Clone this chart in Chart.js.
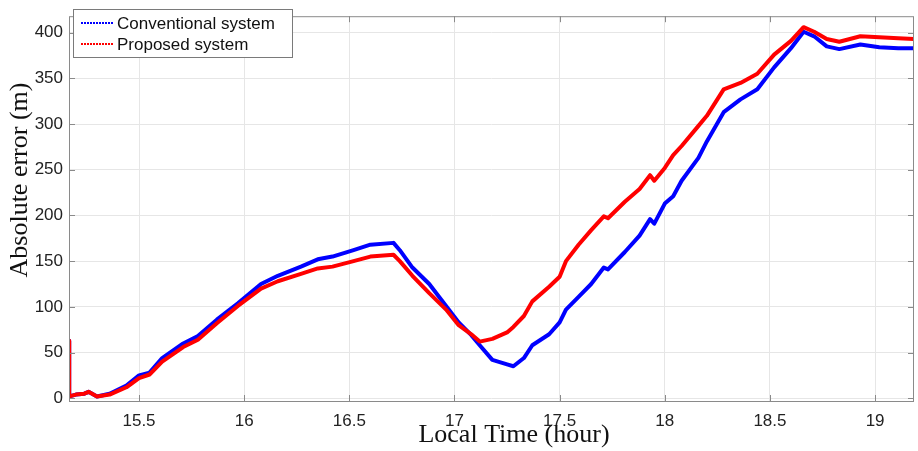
<!DOCTYPE html>
<html>
<head>
<meta charset="utf-8">
<script src="https://cdn.jsdelivr.net/npm/chart.js@4/dist/chart.umd.min.js"></script>
<style>
  html, body { margin: 0; padding: 0; background: #fff; }
  canvas { display: block; }
</style>
</head>
<body>
<canvas id="errChart" width="918" height="451"></canvas>
<script>
// local time (hour) of each sample
const times = [15.167, 15.168, 15.20, 15.24, 15.26, 15.30, 15.36, 15.44, 15.50, 15.55,
    15.61, 15.71, 15.78, 15.87, 15.97, 16.08, 16.16, 16.27, 16.35, 16.42,
    16.52, 16.60, 16.71, 16.74, 16.80, 16.88, 16.96, 17.02, 17.08, 17.12,
    17.18, 17.25, 17.28, 17.33, 17.37, 17.45, 17.50, 17.53, 17.59, 17.65,
    17.71, 17.73, 17.81, 17.88, 17.93, 17.95, 18.00, 18.04, 18.08, 18.16,
    18.20, 18.28, 18.36, 18.44, 18.52, 18.60, 18.66, 18.71, 18.77, 18.83,
    18.93, 19.02, 19.11, 19.185];
// absolute error (m)
const conventional = [63, 2, 4, 5, 7, 2, 5, 14, 25, 28,
    44, 60, 68, 86, 104, 125, 134, 144, 152, 155,
    162, 168, 170, 162, 143, 125, 101, 83, 69, 58,
    42, 37, 35, 44, 58, 70, 83, 97, 111, 125,
    143, 141, 160, 178, 196, 191, 213, 221, 238, 263,
    281, 313, 327, 338, 362, 383, 401, 396, 385, 382,
    387, 384, 383, 383];
const proposed = [63, 2, 4, 5, 7, 2, 4, 12, 22, 26,
    40, 56, 64, 82, 101, 120, 128, 136, 142, 144,
    150, 155, 157, 150, 134, 115, 97, 80, 70, 62,
    65, 72, 78, 90, 106, 122, 133, 150, 168, 184,
    199, 197, 215, 229, 244, 238, 252, 266, 276, 298,
    309, 338, 345, 355, 376, 391, 406, 401, 393, 390,
    396, 395, 394, 393];

const xTicks = [15.5, 16, 16.5, 17, 17.5, 18, 18.5, 19];
const yTicks = [0, 50, 100, 150, 200, 250, 300, 350, 400];
const seriesNames = ["Conventional system", "Proposed system"];
const seriesColors = ["#0000ff", "#ff0000"];

const tickFont = { family: "'Liberation Sans', Arial, sans-serif", size: 17 };

function toPoints(values) {
    return times.map((t, i) => ({ x: t, y: values[i] }));
}

// box, inward ticks, legend and axis titles, matlab style
const matlabDecor = {
    id: "matlabDecor",
    afterDraw(chart) {
        const ctx = chart.ctx;
        const a = chart.chartArea;
        const xs = chart.scales.x;
        const ys = chart.scales.y;
        ctx.save();

        ctx.strokeStyle = "#8a8a8a";
        ctx.lineWidth = 1;
        ctx.beginPath();
        xTicks.forEach(v => {
            const px = Math.round(xs.getPixelForValue(v)) + 0.5;
            ctx.moveTo(px, a.bottom); ctx.lineTo(px, a.bottom - 6);
            ctx.moveTo(px, a.top); ctx.lineTo(px, a.top + 6);
        });
        yTicks.forEach(v => {
            const py = Math.round(ys.getPixelForValue(v)) + 0.5;
            ctx.moveTo(a.left, py); ctx.lineTo(a.left + 6, py);
            ctx.moveTo(a.right, py); ctx.lineTo(a.right - 6, py);
        });
        ctx.stroke();
        ctx.strokeRect(a.left + 0.5, a.top + 0.5, a.right - a.left - 1, a.bottom - a.top);

        // legend
        const lx = 73, ly = 9, lw = 219, lh = 48;
        ctx.fillStyle = "#fff";
        ctx.fillRect(lx, ly, lw, lh);
        ctx.strokeStyle = "#7a7a7a";
        ctx.strokeRect(lx + 0.5, ly + 0.5, lw, lh);
        ctx.font = "17px 'Liberation Sans', Arial, sans-serif";
        ctx.textBaseline = "middle";
        ctx.textAlign = "left";
        seriesNames.forEach((name, i) => {
            const rowY = ly + 14 + i * 21;
            ctx.strokeStyle = seriesColors[i];
            ctx.lineWidth = 2;
            ctx.setLineDash([2, 1]);
            ctx.beginPath();
            ctx.moveTo(81, rowY); ctx.lineTo(113, rowY);
            ctx.stroke();
            ctx.setLineDash([]);
            ctx.fillStyle = "#111";
            ctx.fillText(name, 117, rowY + 1);
        });

        // axis titles
        ctx.fillStyle = "#111";
        ctx.font = "26px 'Liberation Serif', 'Times New Roman', serif";
        ctx.textAlign = "center";
        ctx.textBaseline = "middle";
        ctx.fillText("Local Time (hour)", 514, 435);
        ctx.translate(20, 180);
        ctx.rotate(-Math.PI / 2);
        ctx.fillText("Absolute error (m)", 0, 0);
        ctx.restore();
    }
};

const chart = new Chart(document.getElementById("errChart"), {
    type: "line",
    data: {
        datasets: [
            {
                label: seriesNames[0],
                data: toPoints(conventional),
                borderColor: seriesColors[0],
                borderWidth: 4,
                borderJoinStyle: "round",
                order: 1
            },
            {
                label: seriesNames[1],
                data: toPoints(proposed),
                borderColor: seriesColors[1],
                borderWidth: 4,
                borderJoinStyle: "round",
                order: 0
            }
        ]
    },
    options: {
        responsive: false,
        animation: false,
        parsing: false,
        layout: { padding: { top: 4, right: 4, left: 0, bottom: 0 } },
        elements: { point: { radius: 0 }, line: { tension: 0 } },
        plugins: {
            legend: { display: false },
            tooltip: { enabled: false }
        },
        scales: {
            x: {
                type: "linear",
                min: 15.167,
                max: 19.185,
                afterBuildTicks: s => { s.ticks = xTicks.map(v => ({ value: v })); },
                afterFit: s => { s.height = 50; },
                grid: { color: "#e6e6e6", drawTicks: false },
                border: { display: false },
                ticks: {
                    font: tickFont,
                    color: "#222",
                    padding: 10,
                    maxRotation: 0,
                    callback: v => String(v)
                }
            },
            y: {
                min: -3,
                max: 418,
                afterBuildTicks: s => { s.ticks = yTicks.map(v => ({ value: v })); },
                afterFit: s => { s.width = 69; },
                grid: { color: "#e6e6e6", drawTicks: false },
                border: { display: false },
                ticks: {
                    font: tickFont,
                    color: "#222",
                    padding: 6,
                    callback: v => String(v)
                }
            }
        }
    },
    plugins: [matlabDecor]
});
</script>
</body>
</html>
